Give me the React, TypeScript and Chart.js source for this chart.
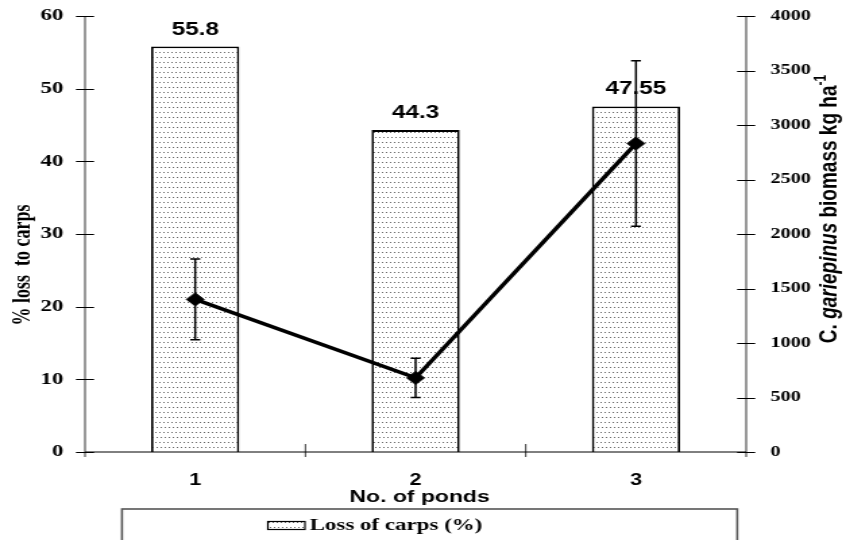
import React, { useEffect, useRef } from 'react';
import { Chart, registerables } from 'chart.js';

Chart.register(...registerables);

// ---- data ----
const categories = ['1', '2', '3'];
const lossOfCarps = [55.8, 44.3, 47.55];
const lossLabels = ['55.8', '44.3', '47.55'];
const biomass = [1400, 680, 2830];
const biomassError = [370, 180, 760];
const legendLabel = 'Loss of carps (%)';
const xTitle = 'No. of ponds';
const yLeftTitle = '% loss  to carps';

// ---- geometry ----
const W = 846;
const H = 540;
const SX = 1.35; // horizontal stretch of the reference
const IW = Math.round(W / SX);

const SERIF = '"Liberation Serif", "Times New Roman", serif';
const SANS = '"Liberation Sans", Arial, sans-serif';

function makePattern(ctx: CanvasRenderingContext2D): CanvasPattern | string {
  const c = document.createElement('canvas');
  c.width = 6;
  c.height = 10;
  const p = c.getContext('2d')!;
  p.fillStyle = '#ffffff';
  p.fillRect(0, 0, 6, 10);
  p.fillStyle = '#666666';
  p.fillRect(1, 2, 1, 1);
  p.fillRect(4, 2, 1, 1);
  p.fillRect(2, 7, 1, 1);
  p.fillRect(5, 7, 1, 1);
  return ctx.createPattern(c, 'repeat') || '#fff';
}

const customPlugin = {
  id: 'customDecor',
  afterDatasetDraw(chart: any, args: any) {
    if (args.index !== 0) return;
    const ctx: CanvasRenderingContext2D = chart.ctx;
    ctx.save();
    // value labels above bars
    ctx.font = `bold 18px ${SANS}`;
    ctx.fillStyle = '#000';
    ctx.textAlign = 'center';
    ctx.textBaseline = 'alphabetic';
    args.meta.data.forEach((bar: any, i: number) => {
      ctx.fillText(lossLabels[i], bar.x, bar.y - 12);
    });
    // error bars of the biomass series
    const xs = chart.scales.x;
    const y1 = chart.scales.y1;
    ctx.strokeStyle = '#000';
    ctx.lineWidth = 1.5;
    biomass.forEach((v, i) => {
      const x = xs.getPixelForValue(i);
      const top = y1.getPixelForValue(v + biomassError[i]);
      const bot = y1.getPixelForValue(v - biomassError[i]);
      ctx.beginPath();
      ctx.moveTo(x, top);
      ctx.lineTo(x, bot);
      ctx.moveTo(x - 3.7, top);
      ctx.lineTo(x + 3.7, top);
      ctx.moveTo(x - 3.7, bot);
      ctx.lineTo(x + 3.7, bot);
      ctx.stroke();
    });
    ctx.restore();
  },
  afterDraw(chart: any) {
    const ctx: CanvasRenderingContext2D = chart.ctx;
    const area = chart.chartArea;
    const xs = chart.scales.x;
    const yl = chart.scales.y;
    const yr = chart.scales.y1;
    ctx.save();
    ctx.strokeStyle = '#000';
    // axis lines
    ctx.lineWidth = 0.8;
    ctx.beginPath();
    ctx.moveTo(area.left, area.top);
    ctx.lineTo(area.left, area.bottom + 5);
    ctx.moveTo(area.right, area.top);
    ctx.lineTo(area.right, area.bottom + 5);
    ctx.stroke();
    ctx.lineWidth = 1;
    ctx.beginPath();
    ctx.moveTo(area.left, area.bottom);
    ctx.lineTo(area.right, area.bottom);
    // left ticks
    yl.ticks.forEach((t: any) => {
      const y = Math.round(yl.getPixelForValue(t.value)) + 0.5;
      ctx.moveTo(area.left - 6.7, y);
      ctx.lineTo(area.left + 6.7, y);
    });
    // right ticks
    yr.ticks.forEach((t: any) => {
      const y = Math.round(yr.getPixelForValue(t.value)) + 0.5;
      ctx.moveTo(area.right - 6.7, y);
      ctx.lineTo(area.right + 6.7, y);
    });
    ctx.stroke();
    // category separators
    ctx.lineWidth = 0.8;
    ctx.beginPath();
    const step = (xs.right - xs.left) / categories.length;
    for (let k = 1; k < categories.length; k++) {
      const x = xs.left + k * step;
      ctx.moveTo(x, area.bottom - 8);
      ctx.lineTo(x, area.bottom + 5);
    }
    ctx.stroke();

    // x axis title
    ctx.fillStyle = '#000';
    ctx.font = `bold 17px ${SANS}`;
    ctx.textAlign = 'center';
    ctx.textBaseline = 'middle';
    ctx.fillText(xTitle, 311, 497);

    // left title
    ctx.save();
    ctx.translate(17, 265);
    ctx.rotate(-Math.PI / 2);
    ctx.font = `bold 18px ${SERIF}`;
    ctx.textAlign = 'center';
    ctx.textBaseline = 'middle';
    ctx.fillText(yLeftTitle, 0, 0);
    ctx.restore();

    // right title (rich text)
    ctx.save();
    ctx.translate(615, 209);
    ctx.rotate(-Math.PI / 2);
    ctx.textBaseline = 'middle';
    ctx.textAlign = 'left';
    const parts: [string, string, number][] = [
      ['C. ', `bold 19px ${SANS}`, 0],
      ['gariepinus', `italic bold 19px ${SANS}`, 0],
      [' biomass kg ha', `bold 19px ${SANS}`, 0],
      ['-1', `bold 12px ${SANS}`, -6],
    ];
    let total = 0;
    parts.forEach(([s, f]) => {
      ctx.font = f;
      total += ctx.measureText(s).width;
    });
    let px = -total / 2;
    parts.forEach(([s, f, dy]) => {
      ctx.font = f;
      ctx.fillText(s, px, dy);
      px += ctx.measureText(s).width;
    });
    ctx.restore();

    // legend box
    ctx.strokeStyle = '#555';
    ctx.lineWidth = 1.6;
    ctx.strokeRect(90.4, 509, 456, 40);
    const pat = chart.data.datasets[0].backgroundColor;
    ctx.fillStyle = pat;
    ctx.fillRect(198.5, 521.5, 27.5, 8);
    ctx.strokeStyle = '#000';
    ctx.lineWidth = 1.2;
    ctx.strokeRect(198.5, 521.5, 27.5, 8);
    ctx.fillStyle = '#000';
    ctx.font = `bold 17px ${SERIF}`;
    ctx.textAlign = 'left';
    ctx.textBaseline = 'middle';
    ctx.fillText(legendLabel, 229.5, 526);
    ctx.restore();
  },
};

export default function App() {
  const ref = useRef<HTMLCanvasElement>(null);
  useEffect(() => {
    const canvas = ref.current!;
    const ctx = canvas.getContext('2d')!;
    const pattern = makePattern(ctx);
    const chart = new Chart(canvas, {
      type: 'bar',
      data: {
        labels: categories,
        datasets: [
          {
            type: 'bar',
            label: legendLabel,
            data: lossOfCarps,
            backgroundColor: pattern as any,
            borderColor: '#000',
            borderWidth: 1.8,
            barPercentage: 0.4,
            categoryPercentage: 1,
            yAxisID: 'y',
            order: 2,
          },
          {
            type: 'line',
            label: 'C. gariepinus biomass',
            data: biomass,
            borderColor: '#000',
            backgroundColor: '#000',
            borderWidth: 3.5,
            pointStyle: 'rectRot',
            pointRadius: 6.5,
            pointBorderWidth: 1,
            pointBackgroundColor: '#000',
            pointBorderColor: '#000',
            tension: 0,
            yAxisID: 'y1',
            order: 1,
          } as any,
        ],
      },
      options: {
        responsive: false,
        devicePixelRatio: 1,
        animation: false,
        layout: { padding: { top: 16, left: 0, right: 0, bottom: 0 } },
        plugins: {
          legend: { display: false },
          tooltip: { enabled: false },
        },
        scales: {
          x: {
            type: 'category',
            offset: true,
            grid: { display: false, drawTicks: false },
            border: { display: false },
            ticks: {
              color: '#000',
              font: { family: SANS, size: 16, weight: 'bold' },
              padding: 19,
            },
            afterFit: (s: any) => {
              s.height = 88;
              s.paddingLeft = 0;
              s.paddingRight = 0;
            },
          },
          y: {
            type: 'linear',
            position: 'left',
            min: 0,
            max: 60,
            grid: { display: false, drawTicks: false },
            border: { display: false },
            ticks: {
              stepSize: 10,
              color: '#000',
              font: { family: SERIF, size: 17, weight: 'bold' },
              padding: 16,
              callback: (v: any) => String(v),
            },
            afterFit: (s: any) => {
              s.width = 63;
              s.paddingTop = 0;
              s.paddingBottom = 0;
            },
          },
          y1: {
            type: 'linear',
            position: 'right',
            min: 0,
            max: 4000,
            grid: { display: false, drawTicks: false },
            border: { display: false },
            ticks: {
              stepSize: 500,
              color: '#000',
              font: { family: SERIF, size: 15, weight: 'bold' },
              padding: 18,
              callback: (v: any) => String(v),
            },
            afterFit: (s: any) => {
              s.width = IW - 553;
              s.paddingTop = 0;
              s.paddingBottom = 0;
            },
          },
        },
      } as any,
      plugins: [customPlugin as any],
    });
    return () => chart.destroy();
  }, []);

  return (
    <div style={{ position: 'fixed', left: 0, top: 0, width: W, height: H, background: '#fff' }}>
      <canvas
        ref={ref}
        width={IW}
        height={H}
        style={{ width: `${W}px`, height: `${H}px`, display: 'block' }}
      />
    </div>
  );
}
